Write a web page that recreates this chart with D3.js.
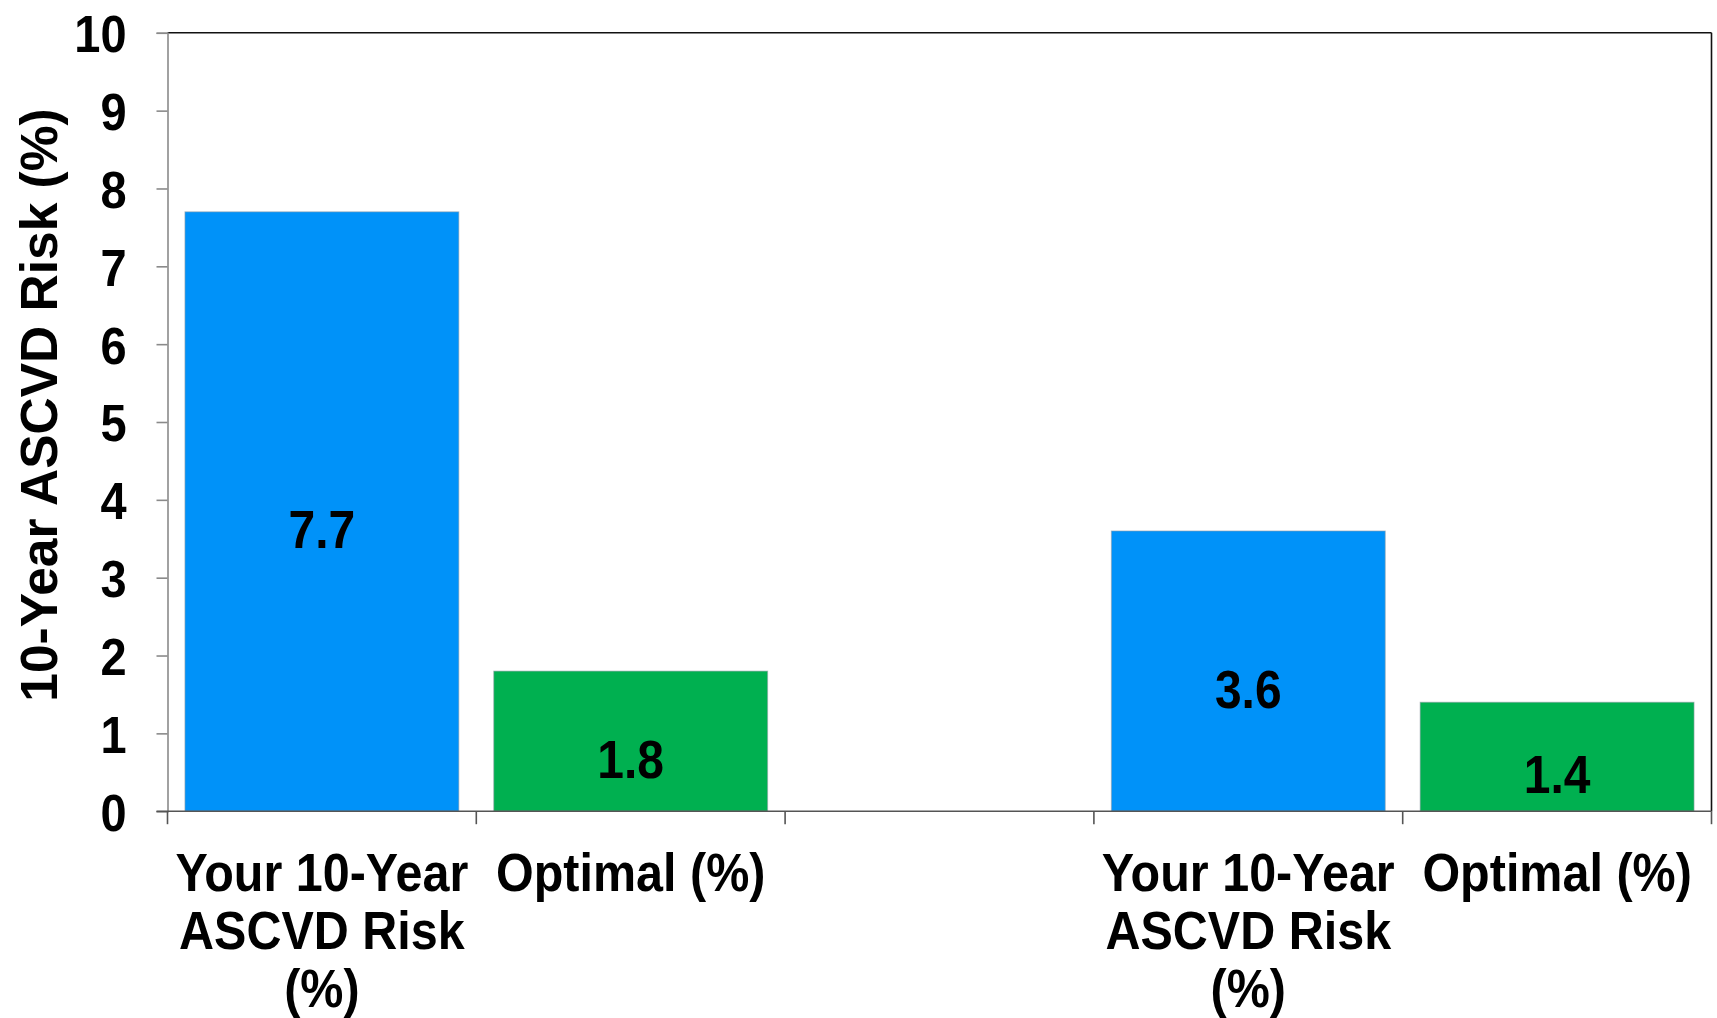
<!DOCTYPE html>
<html>
<head>
<meta charset="utf-8">
<script src="https://cdn.jsdelivr.net/npm/d3@7/dist/d3.min.js"></script>
<style>
  html, body { margin: 0; padding: 0; background: #fff; }
  svg { display: block; font-family: "Liberation Sans", Arial, sans-serif; font-weight: bold; }
  /* horizontal labels are drawn slightly tall */
  text.tall { transform-box: fill-box; transform-origin: center; transform: scaleY(1.12); }
</style>
</head>
<body>
<svg id="chart" width="1717" height="1018"></svg>
<script>
// Category slots along the x axis (the middle slot is an empty spacer)
const categoryIds = ["current1", "optimal1", "spacer", "current2", "optimal2"];
const categoryLabels = [
  ["Your 10-Year", "ASCVD Risk", "(%)"],
  ["Optimal (%)"],
  [],
  ["Your 10-Year", "ASCVD Risk", "(%)"],
  ["Optimal (%)"]
];
const barCategories = ["current1", "optimal1", "current2", "optimal2"];
const barValues = [7.7, 1.8, 3.6, 1.4];
const barKinds = ["risk", "optimal", "risk", "optimal"];
const yTicks = [0, 1, 2, 3, 4, 5, 6, 7, 8, 9, 10];
const yTitle = "10-Year ASCVD Risk (%)";

const colors = { risk: "#0092F9", optimal: "#00B050" };

const svg = d3.select("#chart");
const margin = { left: 167.5, top: 32.8, right: 1717 - 1711.5, bottom: 1018 - 811.2 };
const W = 1717 - margin.left - margin.right;
const H = 1018 - margin.top - margin.bottom;

const g = svg.append("g").attr("transform", `translate(${margin.left},${margin.top})`);

const x = d3.scaleBand()
  .domain(categoryIds)
  .range([0, W])
  .paddingInner(0.113)
  .paddingOuter(0.0565);

const y = d3.scaleLinear().domain([0, 10]).range([H, 0]);

// Frame: top and right edges
g.append("line").attr("x1", 0).attr("x2", W).attr("y1", 0).attr("y2", 0)
  .attr("stroke", "#111").attr("stroke-width", 1.6);
g.append("line").attr("x1", W).attr("x2", W).attr("y1", 0).attr("y2", H)
  .attr("stroke", "#111").attr("stroke-width", 1.6);

// Bars
g.selectAll("rect.bar")
  .data(barValues)
  .join("rect")
  .attr("class", "bar")
  .attr("x", (d, i) => x(barCategories[i]))
  .attr("width", x.bandwidth())
  .attr("y", d => y(d))
  .attr("height", d => H - y(d))
  .attr("fill", (d, i) => colors[barKinds[i]])
  .attr("stroke", "rgba(150,160,170,0.6)")
  .attr("stroke-width", 1);

// Value labels inside bars
g.selectAll("text.value")
  .data(barValues)
  .join("text")
  .attr("class", "value tall")
  .attr("x", (d, i) => x(barCategories[i]) + x.bandwidth() / 2)
  .attr("y", d => y(d / 2) + 18)
  .attr("text-anchor", "middle")
  .attr("dominant-baseline", "central")
  .attr("font-size", 48)
  .attr("fill", "#000")
  .text(d => d.toFixed(1));

// Y axis
const yAxis = g.append("g")
  .call(d3.axisLeft(y).tickValues(yTicks).tickSize(11).tickPadding(30).tickFormat(d3.format("d")));
yAxis.select(".domain").attr("stroke", "#8a8a8a").attr("stroke-width", 1.6);
yAxis.selectAll(".tick line").attr("stroke", "#8a8a8a").attr("stroke-width", 1.6);
yAxis.selectAll(".tick text")
  .attr("class", "tall")
  .attr("font-size", 47).attr("font-family", "Liberation Sans, Arial, sans-serif")
  .attr("font-weight", "bold").attr("fill", "#000").attr("dy", "0.36em");

// X axis baseline and slot boundary ticks
const step = x.step();
g.append("line").attr("x1", -11).attr("x2", W).attr("y1", H).attr("y2", H)
  .attr("stroke", "#555").attr("stroke-width", 1.6);
g.selectAll("line.xtick")
  .data(d3.range(categoryIds.length + 1))
  .join("line")
  .attr("class", "xtick")
  .attr("x1", i => i * step).attr("x2", i => i * step)
  .attr("y1", H).attr("y2", H + 13)
  .attr("stroke", "#555").attr("stroke-width", 1.6);

// Category labels, one text element per line
categoryIds.forEach((c, i) => {
  const cx = x(c) + x.bandwidth() / 2;
  categoryLabels[i].forEach((line, j) => {
    g.append("text")
      .attr("class", "tall")
      .attr("x", cx).attr("y", H + 60.5 + j * 58.3)
      .attr("text-anchor", "middle")
      .attr("dominant-baseline", "central")
      .attr("font-size", 48.5).attr("fill", "#000")
      .text(line);
  });
});

// Y axis title
svg.append("text")
  .attr("transform", `translate(${39},${405}) rotate(-90)`)
  .attr("text-anchor", "middle")
  .attr("dominant-baseline", "central")
  .attr("font-size", 51.5)
  .attr("fill", "#000")
  .text(yTitle);
</script>
</body>
</html>
